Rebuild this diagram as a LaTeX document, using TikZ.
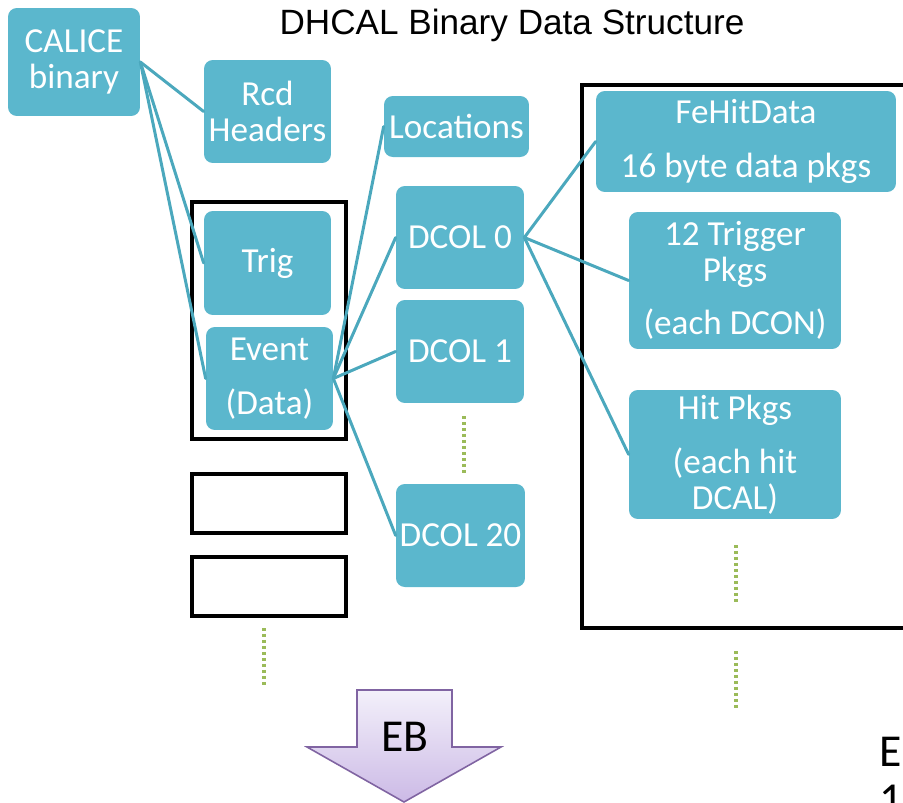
\documentclass[tikz,border=0pt]{standalone}
\usepackage{fontspec}
\setmainfont{Carlito}
\newfontfamily\titlefont{Liberation Sans}
\usepackage{xcolor}

\definecolor{boxfill}{RGB}{91,183,205}
\definecolor{linkcol}{RGB}{75,168,189}
\definecolor{dotgreen}{RGB}{155,187,89}
\definecolor{arrowedge}{RGB}{128,100,162}
\definecolor{arrowtop}{RGB}{243,240,250}
\definecolor{arrowbot}{RGB}{204,186,230}

\begin{document}
\begin{tikzpicture}[line cap=round,line join=round,x=0.02cm,y=-0.02cm,
  item/.style={rectangle, rounded corners=5pt, fill=boxfill, text=white, align=center,
    inner sep=0pt, font=\fontsize{20}{20.5}\selectfont},
  link/.style={draw=linkcol, line width=1.7pt},
  frame/.style={draw=black, line width=2pt, line cap=butt, line join=miter},
  dots/.style={draw=dotgreen, line width=1.8pt, line cap=butt, dash pattern=on 1.7pt off 1.7pt}]

\useasboundingbox (0,0) rectangle (903,802);

\node [font=\titlefont\fontsize{20}{22}\selectfont] (title) at (512,25) {DHCAL Binary Data Structure};

\draw [frame] (192,202) rectangle (346,439);
\draw [frame] (192,474) rectangle (346,533);
\draw [frame] (192,557) rectangle (346,616);
\draw [frame] (582,85) rectangle (930,628);

\node [item, minimum width=2.64cm, minimum height=2.16cm] (calice) at (74,62) {CALICE\\binary};
\node [item, minimum width=2.54cm, minimum height=2.06cm] (rcd) at (267.5,111.5) {Rcd\\Headers};
\node [item, minimum width=2.54cm, minimum height=2.08cm] (trig) at (267.5,263) {Trig};
\node [item, minimum width=2.54cm, minimum height=2.06cm] (event) at (269.5,378.5) {Event\\[10pt](Data)};

\node [item, minimum width=2.9cm, minimum height=1.22cm] (loc) at (456.5,126.5) {Locations};
\node [item, minimum width=2.56cm, minimum height=2.06cm] (dcol0) at (460,237.5) {DCOL 0};
\node [item, minimum width=2.56cm, minimum height=2.06cm] (dcol1) at (460,351.5) {DCOL 1};
\node [item, minimum width=2.58cm, minimum height=2.06cm] (dcol20) at (460.5,535.5) {DCOL 20};

\node [item, minimum width=6.0cm, minimum height=2.02cm] (fehit) at (746,141.5) {FeHitData\\[10pt]16 byte data pkgs};
\node [item, minimum width=4.24cm, minimum height=2.74cm] (trigpkg) at (735,280.5) {12 Trigger\\Pkgs\\[10pt](each DCON)};
\node [item, minimum width=4.24cm, minimum height=2.58cm] (hitpkg) at (735,454.5) {Hit Pkgs\\[10pt](each hit\\DCAL)};

\draw [link] (calice.east) -- (rcd.west);
\draw [link] (calice.east) -- (trig.west);
\draw [link] (calice.east) -- (event.west);

\draw [link] (event.east) -- (loc.west);
\draw [link] (event.east) -- (dcol0.west);
\draw [link] (event.east) -- (dcol1.west);
\draw [link] (event.east) -- (dcol20.west);

\draw [link] (dcol0.east) -- (fehit.west);
\draw [link] (dcol0.east) -- (trigpkg.west);
\draw [link] (dcol0.east) -- (hitpkg.west);

\draw [dots] (264,628) -- (264,686);
\draw [dots] (464,416) -- (464,473);
\draw [dots] (736,545) -- (736,603);
\draw [dots] (736,651) -- (736,709);

\draw [draw=arrowedge, line width=0.9pt, line join=miter, top color=arrowtop, bottom color=arrowbot]
  (357,690) -- (452,690) -- (452,747) -- (501,747) -- (404,802) -- (307,747) -- (357,747) -- cycle;
\node [font=\fontsize{26}{28}\selectfont] (eb) at (405,737) {EB};

\node [anchor=north west, inner sep=0pt, font=\fontsize{26}{28}\selectfont] (evtag) at (879,737) {E};
\node [anchor=north west, inner sep=0pt, font=\fontsize{26}{28}\selectfont] (numtag) at (879,785) {1};
\end{tikzpicture}
\end{document}
